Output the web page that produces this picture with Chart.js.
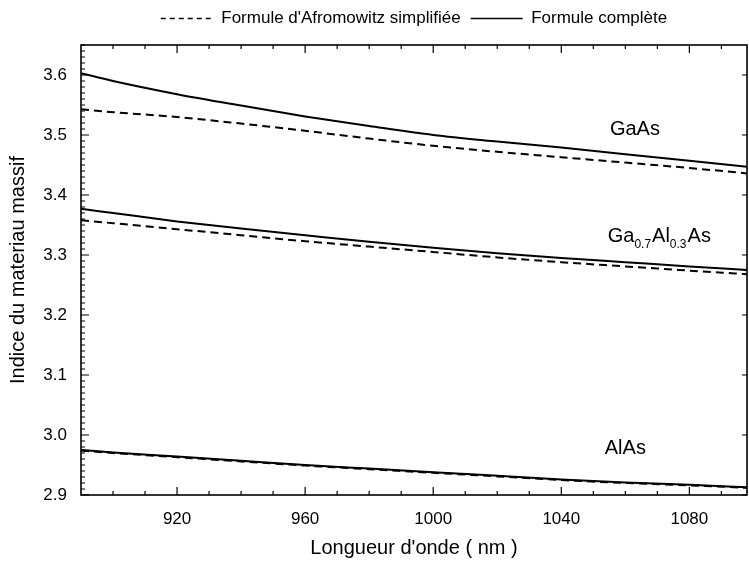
<!DOCTYPE html>
<html>
<head>
<meta charset="utf-8">
<script src="https://cdn.jsdelivr.net/npm/chart.js@4.4.0/dist/chart.umd.min.js"></script>
<style>
  html, body { margin: 0; padding: 0; background: #fff; }
</style>
</head>
<body>
<canvas id="indiceChart" width="749" height="563"></canvas>
<script>
// Longueur d'onde (nm)
const wavelengths = [890, 900, 920, 940, 960, 980, 1000, 1020, 1040, 1060, 1080, 1098];

// Indice du materiau massif
const gaasSimple = [3.543, 3.538, 3.530, 3.519, 3.507, 3.494, 3.482, 3.472, 3.463, 3.454, 3.445, 3.436];
const gaasFull   = [3.603, 3.590, 3.568, 3.549, 3.531, 3.515, 3.500, 3.489, 3.479, 3.468, 3.457, 3.447];
const gaalSimple = [3.358, 3.353, 3.343, 3.333, 3.323, 3.314, 3.305, 3.296, 3.288, 3.281, 3.274, 3.268];
const gaalFull   = [3.377, 3.370, 3.356, 3.344, 3.333, 3.322, 3.312, 3.303, 3.295, 3.288, 3.281, 3.275];
const alasSimple = [2.974, 2.970, 2.963, 2.956, 2.949, 2.943, 2.937, 2.931, 2.925, 2.920, 2.916, 2.912];
const alasFull   = [2.975, 2.971, 2.964, 2.957, 2.950, 2.944, 2.938, 2.932, 2.926, 2.921, 2.917, 2.913];

const legendLabels = ["Formule d'Afromowitz simplifiée", 'Formule complète'];
const materialLabels = ['GaAs', 'AlAs'];

const FONT = '"Liberation Sans", Arial, sans-serif';

function toPoints(values) {
    return values.map((v, i) => ({ x: wavelengths[i], y: v }));
}

function curve(label, values, dashed) {
    return {
        label: label,
        data: toPoints(values),
        borderColor: '#000',
        backgroundColor: '#000',
        borderWidth: 2,
        borderDash: dashed ? [8, 5] : [],
        pointRadius: 0,
        pointStyle: 'line',
        cubicInterpolationMode: 'monotone',
        fill: false
    };
}

// frame, inward ticks and the material names
const frameAndNames = {
    id: 'frameAndNames',
    afterDatasetsDraw(chart) {
        const { ctx, chartArea: a, scales: { x, y } } = chart;
        ctx.save();
        ctx.strokeStyle = '#000';
        ctx.lineWidth = 1.6;
        ctx.strokeRect(a.left, a.top, a.right - a.left, a.bottom - a.top);

        ctx.lineWidth = 1.2;
        ctx.beginPath();
        // x ticks every 10 nm, long ones on the labelled values
        for (let v = 900; v <= x.max; v += 10) {
            const px = x.getPixelForValue(v);
            const len = (v - 920) % 40 === 0 ? 8 : 4;
            ctx.moveTo(px, a.bottom); ctx.lineTo(px, a.bottom - len);
            ctx.moveTo(px, a.top); ctx.lineTo(px, a.top + len);
        }
        // y ticks every 0.01
        for (let i = 290; i <= 365; i++) {
            const py = y.getPixelForValue(i / 100);
            const major = i % 10 === 0;
            ctx.moveTo(a.left, py); ctx.lineTo(a.left + (major ? 8 : 4), py);
            if (major) { ctx.moveTo(a.right, py); ctx.lineTo(a.right - 5, py); }
        }
        ctx.stroke();

        ctx.fillStyle = '#000';
        ctx.textBaseline = 'alphabetic';
        ctx.font = '20px ' + FONT;
        ctx.textAlign = 'center';
        ctx.fillText(materialLabels[0], x.getPixelForValue(1063), y.getPixelForValue(3.50));
        ctx.fillText(materialLabels[1], x.getPixelForValue(1060), y.getPixelForValue(2.968));

        // Ga0.7Al0.3As with subscripts
        ctx.textAlign = 'left';
        let cx = x.getPixelForValue(1054.5);
        const by = y.getPixelForValue(3.322);
        const parts = [['Ga', false], ['0.7', true], ['Al', false], ['0.3', true], ['As', false]];
        parts.forEach(([t, sub]) => {
            ctx.font = (sub ? '12px ' : '20px ') + FONT;
            ctx.fillText(t, cx, sub ? by + 6 : by);
            cx += ctx.measureText(t).width + (sub ? 1 : 0);
        });
        ctx.restore();
    }
};

new Chart(document.getElementById('indiceChart').getContext('2d'), {
    type: 'line',
    data: {
        datasets: [
            curve(legendLabels[0], gaasSimple, true),
            curve(legendLabels[1], gaasFull, false),
            curve('Ga0.7Al0.3As simplifiée', gaalSimple, true),
            curve('Ga0.7Al0.3As complète', gaalFull, false),
            curve('AlAs simplifiée', alasSimple, true),
            curve('AlAs complète', alasFull, false)
        ]
    },
    options: {
        responsive: false,
        animation: false,
        layout: { padding: { top: 0, right: 2, bottom: 0, left: 0 } },
        plugins: {
            tooltip: { enabled: false },
            legend: {
                position: 'top',
                fullSize: false,
                labels: {
                    color: '#000',
                    font: { family: FONT, size: 17 },
                    usePointStyle: true,
                    pointStyleWidth: 52,
                    padding: 10,
                    filter: item => item.datasetIndex < 2,
                    // the point style swatch loses the dash, put it back
                    generateLabels: chart => Chart.defaults.plugins.legend.labels.generateLabels(chart)
                        .map(item => Object.assign(item, {
                            lineDash: chart.data.datasets[item.datasetIndex].borderDash.length ? [5, 4] : [],
                            lineWidth: 1.5
                        }))
                }
            }
        },
        scales: {
            x: {
                type: 'linear',
                min: 890,
                max: 1098,
                afterFit: s => { s.height = 68; },
                grid: { drawOnChartArea: false, drawTicks: false },
                border: { display: false },
                ticks: {
                    stepSize: 40,
                    includeBounds: false,
                    padding: 14,
                    color: '#000',
                    font: { family: FONT, size: 17 },
                    callback: v => String(v)
                },
                title: {
                    display: true,
                    text: "Longueur d'onde ( nm )",
                    color: '#000',
                    font: { family: FONT, size: 20 },
                    padding: { top: 0, bottom: 3 }
                }
            },
            xTop: {
                type: 'linear',
                position: 'top',
                min: 890,
                max: 1098,
                afterFit: s => { s.height = 8; },
                grid: { display: false },
                border: { display: false },
                ticks: { display: false }
            },
            y: {
                min: 2.9,
                max: 3.65,
                afterFit: s => { s.width = 81; },
                grid: { drawOnChartArea: false, drawTicks: false },
                border: { display: false },
                ticks: {
                    stepSize: 0.1,
                    includeBounds: false,
                    padding: 14,
                    color: '#000',
                    font: { family: FONT, size: 17 },
                    callback: v => v.toFixed(1)
                },
                title: {
                    display: true,
                    text: 'Indice du materiau massif',
                    color: '#000',
                    font: { family: FONT, size: 20 },
                    padding: { top: 6, bottom: 0 }
                }
            }
        }
    },
    plugins: [frameAndNames]
});
</script>
</body>
</html>
